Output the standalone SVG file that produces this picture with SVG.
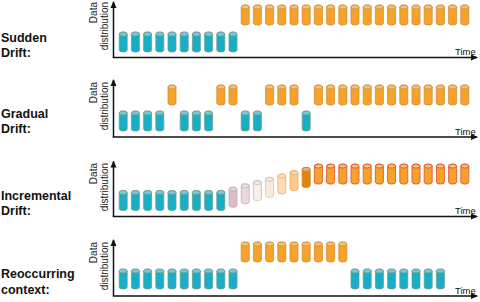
<svg xmlns="http://www.w3.org/2000/svg" xmlns:xlink="http://www.w3.org/1999/xlink" width="480" height="302" viewBox="0 0 480 302">
<style>
.lbl{font-family:"Liberation Sans",Arial,sans-serif;font-weight:bold;font-size:12.5px;fill:#111}
.ax{font-family:"Liberation Sans",Arial,sans-serif;font-size:10px;fill:#222}
.tm{font-family:"Liberation Sans",Arial,sans-serif;font-size:9.5px;fill:#111}
.axis{stroke:#111;stroke-width:1.5;fill:none}
use{stroke-width:0.8}
.b{fill:#17afc7;stroke:#6f9d8f}
.o{fill:#f5a32a;stroke:#d88b2e}
.r{fill:#f5a32a;stroke:#e2482a}
.i1{fill:#e0bcc6;stroke:#b9aeb0}
.i2{fill:#ecd8dc;stroke:#bdb5b5}
.i3{fill:#f6efec;stroke:#c4c0b6}
.i4{fill:#faeadb;stroke:#cfc2ae}
.i5{fill:#fddcb6;stroke:#f0ae64}
.i6{fill:#fcc98e;stroke:#f0a85a}
.i7{fill:#e0850f;stroke:#d27a12}
</style>
<defs>
<marker id="arr" markerUnits="userSpaceOnUse" markerWidth="7" markerHeight="7" refX="6" refY="3.5" orient="auto">
<path d="M0,0.5 L7,3.5 L0,6.5 Z" fill="#111"/>
</marker>
<g id="cyl">
<path d="M0.5 2.5 A4 2 0 0 1 8.5 2.5 V18.5 A4 2 0 0 1 0.5 18.5 Z"/>
<ellipse cx="4.5" cy="2.5" rx="4" ry="2" fill="#e8e8e8" fill-opacity="0.45"/>
</g>
</defs>

<g id="connectors">
<line class="axis" x1="113.5" y1="57.5" x2="113.5" y2="2" marker-end="url(#arr)"/>
<line class="axis" x1="112.75" y1="57.5" x2="477" y2="57.5" marker-end="url(#arr)"/>
<line class="axis" x1="113.5" y1="137" x2="113.5" y2="80" marker-end="url(#arr)"/>
<line class="axis" x1="112.75" y1="137" x2="477" y2="137" marker-end="url(#arr)"/>
<line class="axis" x1="113.5" y1="216.5" x2="113.5" y2="161.5" marker-end="url(#arr)"/>
<line class="axis" x1="112.75" y1="216.5" x2="477" y2="216.5" marker-end="url(#arr)"/>
<line class="axis" x1="113.5" y1="296" x2="113.5" y2="240" marker-end="url(#arr)"/>
<line class="axis" x1="112.75" y1="296" x2="477" y2="296" marker-end="url(#arr)"/>
</g>

<g id="row-sudden">
<text class="lbl" x="1" y="42">Sudden</text>
<text class="lbl" x="1" y="57">Drift:</text>
<g transform="translate(96.5,2) rotate(-90)"><text class="ax" text-anchor="end">Data</text><text class="ax" text-anchor="end" y="11.5">distribution</text></g>
<text class="tm" x="455" y="55">Time</text>
<use href="#cyl" class="b" x="118.7" y="31.5"/><use href="#cyl" class="b" x="130.9" y="31.5"/><use href="#cyl" class="b" x="143.1" y="31.5"/><use href="#cyl" class="b" x="155.3" y="31.5"/><use href="#cyl" class="b" x="167.5" y="31.5"/><use href="#cyl" class="b" x="179.7" y="31.5"/><use href="#cyl" class="b" x="191.9" y="31.5"/><use href="#cyl" class="b" x="204.1" y="31.5"/><use href="#cyl" class="b" x="216.3" y="31.5"/><use href="#cyl" class="b" x="228.5" y="31.5"/>
<use href="#cyl" class="o" x="240.7" y="4.5"/><use href="#cyl" class="o" x="252.9" y="4.5"/><use href="#cyl" class="o" x="265.1" y="4.5"/><use href="#cyl" class="o" x="277.3" y="4.5"/><use href="#cyl" class="o" x="289.5" y="4.5"/><use href="#cyl" class="o" x="301.7" y="4.5"/><use href="#cyl" class="o" x="313.9" y="4.5"/><use href="#cyl" class="o" x="326.1" y="4.5"/><use href="#cyl" class="o" x="338.3" y="4.5"/><use href="#cyl" class="o" x="350.5" y="4.5"/><use href="#cyl" class="o" x="362.7" y="4.5"/><use href="#cyl" class="o" x="374.9" y="4.5"/><use href="#cyl" class="o" x="387.1" y="4.5"/><use href="#cyl" class="o" x="399.3" y="4.5"/><use href="#cyl" class="o" x="411.5" y="4.5"/><use href="#cyl" class="o" x="423.7" y="4.5"/><use href="#cyl" class="o" x="435.9" y="4.5"/><use href="#cyl" class="o" x="448.1" y="4.5"/><use href="#cyl" class="o" x="460.3" y="4.5"/>
</g>

<g id="row-gradual">
<text class="lbl" x="1" y="118">Gradual</text>
<text class="lbl" x="1" y="133">Drift:</text>
<g transform="translate(96.5,82) rotate(-90)"><text class="ax" text-anchor="end">Data</text><text class="ax" text-anchor="end" y="11.5">distribution</text></g>
<text class="tm" x="455" y="134.5">Time</text>
<use href="#cyl" class="b" x="118.7" y="110.5"/><use href="#cyl" class="b" x="130.9" y="110.5"/><use href="#cyl" class="b" x="143.1" y="110.5"/><use href="#cyl" class="b" x="155.3" y="110.5"/>
<use href="#cyl" class="o" x="167.5" y="84.5"/>
<use href="#cyl" class="b" x="179.7" y="110.5"/><use href="#cyl" class="b" x="191.9" y="110.5"/><use href="#cyl" class="b" x="204.1" y="110.5"/>
<use href="#cyl" class="o" x="216.3" y="84.5"/><use href="#cyl" class="o" x="228.5" y="84.5"/>
<use href="#cyl" class="b" x="240.7" y="110.5"/><use href="#cyl" class="b" x="252.9" y="110.5"/>
<use href="#cyl" class="o" x="265.1" y="84.5"/><use href="#cyl" class="o" x="277.3" y="84.5"/><use href="#cyl" class="o" x="289.5" y="84.5"/>
<use href="#cyl" class="b" x="301.7" y="110.5"/>
<use href="#cyl" class="o" x="313.9" y="84.5"/><use href="#cyl" class="o" x="326.1" y="84.5"/><use href="#cyl" class="o" x="338.3" y="84.5"/><use href="#cyl" class="o" x="350.5" y="84.5"/><use href="#cyl" class="o" x="362.7" y="84.5"/><use href="#cyl" class="o" x="374.9" y="84.5"/><use href="#cyl" class="o" x="387.1" y="84.5"/><use href="#cyl" class="o" x="399.3" y="84.5"/><use href="#cyl" class="o" x="411.5" y="84.5"/><use href="#cyl" class="o" x="423.7" y="84.5"/><use href="#cyl" class="o" x="435.9" y="84.5"/><use href="#cyl" class="o" x="448.1" y="84.5"/><use href="#cyl" class="o" x="460.3" y="84.5"/>
</g>

<g id="row-incremental">
<text class="lbl" x="1" y="200">Incremental</text>
<text class="lbl" x="1" y="215">Drift:</text>
<g transform="translate(96.5,163) rotate(-90)"><text class="ax" text-anchor="end">Data</text><text class="ax" text-anchor="end" y="11.5">distribution</text></g>
<text class="tm" x="455" y="214">Time</text>
<use href="#cyl" class="b" x="118.7" y="190"/><use href="#cyl" class="b" x="130.9" y="190"/><use href="#cyl" class="b" x="143.1" y="190"/><use href="#cyl" class="b" x="155.3" y="190"/><use href="#cyl" class="b" x="167.5" y="190"/><use href="#cyl" class="b" x="179.7" y="190"/><use href="#cyl" class="b" x="191.9" y="190"/><use href="#cyl" class="b" x="204.1" y="190"/><use href="#cyl" class="b" x="216.3" y="190"/>
<use href="#cyl" class="i1" x="228.5" y="186.7"/>
<use href="#cyl" class="i2" x="240.7" y="183.4"/>
<use href="#cyl" class="i3" x="252.9" y="180.1"/>
<use href="#cyl" class="i4" x="265.1" y="176.8"/>
<use href="#cyl" class="i5" x="277.3" y="173.5"/>
<use href="#cyl" class="i6" x="289.5" y="170.2"/>
<use href="#cyl" class="i7" x="301.7" y="166.9"/>
<use href="#cyl" class="r" x="313.9" y="163.6"/><use href="#cyl" class="r" x="326.1" y="163.6"/><use href="#cyl" class="r" x="338.3" y="163.6"/><use href="#cyl" class="r" x="350.5" y="163.6"/><use href="#cyl" class="r" x="362.7" y="163.6"/><use href="#cyl" class="r" x="374.9" y="163.6"/><use href="#cyl" class="r" x="387.1" y="163.6"/><use href="#cyl" class="r" x="399.3" y="163.6"/><use href="#cyl" class="r" x="411.5" y="163.6"/><use href="#cyl" class="r" x="423.7" y="163.6"/><use href="#cyl" class="r" x="435.9" y="163.6"/><use href="#cyl" class="r" x="448.1" y="163.6"/><use href="#cyl" class="r" x="460.3" y="163.6"/>
</g>

<g id="row-reoccurring">
<text class="lbl" x="1" y="278">Reoccurring</text>
<text class="lbl" x="1" y="294">context:</text>
<g transform="translate(96.5,242) rotate(-90)"><text class="ax" text-anchor="end">Data</text><text class="ax" text-anchor="end" y="11.5">distribution</text></g>
<text class="tm" x="455" y="293.5">Time</text>
<use href="#cyl" class="b" x="118.7" y="268.5"/><use href="#cyl" class="b" x="130.9" y="268.5"/><use href="#cyl" class="b" x="143.1" y="268.5"/><use href="#cyl" class="b" x="155.3" y="268.5"/><use href="#cyl" class="b" x="167.5" y="268.5"/><use href="#cyl" class="b" x="179.7" y="268.5"/><use href="#cyl" class="b" x="191.9" y="268.5"/><use href="#cyl" class="b" x="204.1" y="268.5"/><use href="#cyl" class="b" x="216.3" y="268.5"/><use href="#cyl" class="b" x="228.5" y="268.5"/>
<use href="#cyl" class="o" x="240.7" y="241.5"/><use href="#cyl" class="o" x="252.9" y="241.5"/><use href="#cyl" class="o" x="265.1" y="241.5"/><use href="#cyl" class="o" x="277.3" y="241.5"/><use href="#cyl" class="o" x="289.5" y="241.5"/><use href="#cyl" class="o" x="301.7" y="241.5"/><use href="#cyl" class="o" x="313.9" y="241.5"/><use href="#cyl" class="o" x="326.1" y="241.5"/><use href="#cyl" class="o" x="338.3" y="241.5"/>
<use href="#cyl" class="b" x="350.5" y="268.5"/><use href="#cyl" class="b" x="362.7" y="268.5"/><use href="#cyl" class="b" x="374.9" y="268.5"/><use href="#cyl" class="b" x="387.1" y="268.5"/><use href="#cyl" class="b" x="399.3" y="268.5"/><use href="#cyl" class="b" x="411.5" y="268.5"/><use href="#cyl" class="b" x="423.7" y="268.5"/><use href="#cyl" class="b" x="435.9" y="268.5"/>
</g>
</svg>
